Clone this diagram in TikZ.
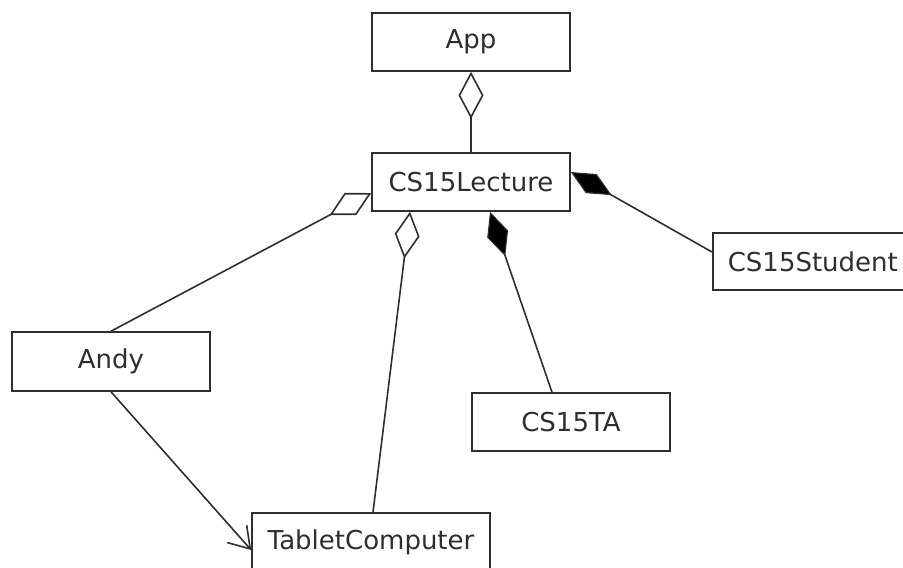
\documentclass[tikz,border=0pt]{standalone}
\usepackage{fontspec}
\setmainfont{DejaVu Sans}
\usetikzlibrary{arrows.meta}
\definecolor{ink}{HTML}{2E2E2E}
\tikzset{
  classbox/.style={draw=ink, line width=1.6pt, rectangle, minimum height=58pt,
    inner sep=0pt, text=ink, font=\fontsize{26}{31}\selectfont},
  conn/.style={draw=ink, line width=1.6pt},
  aggr/.style={conn, -{Diamond[open, length=47pt, width=25pt, line width=1.6pt]}},
  comp/.style={conn, -{Diamond[length=47pt, width=22pt, fill=black, line width=1.2pt]}},
  depend/.style={conn, -{Straight Barb[length=20pt, width=26pt, line width=1.6pt]}}
}
\begin{document}
\begin{tikzpicture}[x=1pt, y=-1pt]
\useasboundingbox (0,0) rectangle (903,568);
\node[classbox, minimum width=198pt] (app) at (471,42) {App};
\node[classbox, minimum width=198pt] (lec) at (471,182) {CS15Lecture};
\node[classbox, anchor=west, minimum height=57pt, inner xsep=15pt, text width=200pt, align=left] (stu) at (712,261.5) {CS15Student};
\node[classbox, minimum width=198pt, minimum height=59pt] (andy) at (111,361.5) {Andy};
\node[classbox, minimum width=198pt] (ta) at (571,422) {CS15TA};
\node[classbox, minimum width=238pt] (tab) at (371,542) {TabletComputer};

\draw[aggr] (lec.north) -- (app.south);
\draw[aggr] (andy.north) -- ([yshift=-11pt]lec.west);
\draw[aggr] ([xshift=2pt]tab.north) -- ([xshift=-61pt]lec.south);
\draw[comp] ([xshift=-19pt]ta.north) -- ([xshift=19pt]lec.south);
\draw[comp] ([yshift=9.5pt]stu.west) -- ([yshift=10pt]lec.east);
\draw[depend] (andy.south) -- ([yshift=-8pt]tab.west);
\end{tikzpicture}
\end{document}
